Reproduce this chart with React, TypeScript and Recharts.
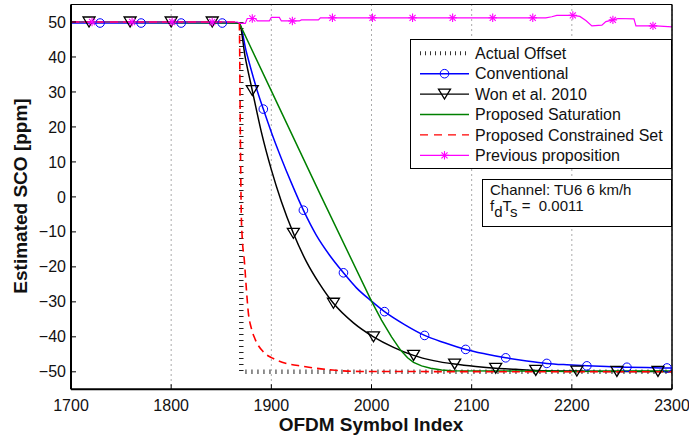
import React from 'react';
import { LineChart, Line, XAxis, YAxis, CartesianGrid } from 'recharts';

// x = OFDM symbol index, y = estimated SCO in ppm
const xTicks = [1700, 1800, 1900, 2000, 2100, 2200, 2300];
const yTicks = [-50, -40, -30, -20, -10, 0, 10, 20, 30, 40, 50];

const actualX = [1870, 1870, 2300];
const actualY = [50, -50, -50];

const conventionalX = [1700, 1729, 1770, 1810, 1851, 1868, 1875, 1880, 1886, 1892, 1900, 1910, 1920, 1932, 1945, 1958, 1972, 1985, 2000, 2013, 2033, 2053, 2073, 2094, 2114, 2134, 2155, 2175, 2195, 2215, 2235, 2255, 2275, 2295, 2300];
const conventionalY = [49.7, 49.7, 49.7, 49.7, 49.7, 49.7, 41.5, 36.2, 30.3, 25.1, 18.5, 11, 4, -3.8, -11, -16.6, -21.7, -26, -29.8, -32.8, -36.5, -39.6, -41.7, -43.6, -44.9, -46, -46.9, -47.6, -48, -48.3, -48.5, -48.7, -48.8, -48.9, -48.9];
const conventionalMarks = [1729, 1770, 1810, 1851, 1892, 1932, 1972, 2013, 2053, 2094, 2134, 2175, 2215, 2255, 2295];

const wonX = [1700, 1718, 1759, 1800, 1841, 1868, 1874, 1881, 1890, 1900, 1910, 1922, 1935, 1948, 1962, 1982, 2002, 2022, 2042, 2062, 2083, 2104, 2124, 2144, 2164, 2205, 2245, 2286, 2300];
const wonY = [50, 50, 50, 50, 50, 49.7, 39.8, 30.4, 18.6, 7.8, -1.3, -10.4, -18.5, -24.8, -30.4, -36, -40, -43, -45.3, -46.8, -47.8, -48.5, -49, -49.3, -49.6, -49.8, -49.9, -49.9, -50];
const wonMarks = [1718, 1759, 1800, 1841, 1881, 1922, 1962, 2002, 2042, 2083, 2124, 2164, 2205, 2245, 2286];

const saturationX = [1700, 1868, 1900, 1950, 2000, 2010, 2020, 2029, 2036, 2042, 2050, 2059, 2070, 2080, 2150, 2200, 2250, 2300];
const saturationY = [50, 49.7, 30.3, 0, -29.8, -35.2, -40, -43.8, -46, -47.3, -48.3, -49, -49.5, -49.7, -49.8, -49.9, -49.8, -49.8];

const constrainedX = [1700, 1868, 1869, 1870, 1871, 1873, 1875, 1877, 1880, 1884, 1892, 1902, 1915, 1931, 1961, 1990, 2300];
const constrainedY = [50, 50, 20, -5, -12, -18, -26, -33, -37.5, -40.8, -44.3, -46.2, -47.6, -48.4, -49.5, -49.9, -50];

const previousX = [1700, 1721, 1761, 1801, 1841, 1866, 1869, 1874, 1876, 1881, 1884, 1886, 1898, 1900, 1908, 1910, 1921, 1928, 1930, 1947, 1949, 1961, 2001, 2041, 2081, 2121, 2161, 2174, 2180, 2185, 2201, 2208, 2214, 2220, 2230, 2234, 2241, 2246, 2262, 2264, 2281, 2284, 2300];
const previousY = [50, 50, 50, 50, 50, 50, 49.6, 49.6, 51, 51, 51, 50.3, 50.3, 51.3, 51.3, 50.3, 50.3, 50.3, 50.6, 50.6, 51.2, 51.2, 51.2, 51.2, 51.2, 51.2, 51.2, 51.2, 51.5, 51.9, 51.9, 51.6, 50.4, 48.9, 49.1, 50.1, 50.6, 51, 50.9, 48.9, 48.9, 48.9, 48.6];
const previousMarks = [1721, 1761, 1801, 1841, 1881, 1921, 1961, 2001, 2041, 2081, 2121, 2161, 2201, 2241, 2281];

const legendNames = ['Actual Offset', 'Conventional', 'Won et al. 2010', 'Proposed Saturation', 'Proposed Constrained Set', 'Previous proposition'];

const FONT = '"Liberation Sans", Arial, Helvetica, sans-serif';
const BLUE = '#0000ff';
const GREEN = '#008000';
const RED = '#ff0000';
const MAGENTA = '#ff00ff';

const toPoints = (xs: number[], ys: number[]) => xs.map((x, i) => ({ x, y: ys[i] }));

const fmt = (v: number) => (v < 0 ? `\u2212${-v}` : `${v}`);

const Marker = ({ kind, cx, cy }: { kind: string; cx: number; cy: number }) => {
  if (kind === 'circle') {
    return <circle cx={cx} cy={cy} r={4.3} fill="none" stroke={BLUE} strokeWidth={1} />;
  }
  if (kind === 'tri') {
    return (
      <polygon
        points={`${cx - 6},${cy - 5} ${cx + 6},${cy - 5} ${cx},${cy + 5}`}
        fill="none"
        stroke="#000"
        strokeWidth={1.3}
      />
    );
  }
  const s = 4.2;
  const d = s * 0.72;
  return (
    <g stroke={MAGENTA} strokeWidth={1.1}>
      <line x1={cx - s} x2={cx + s} y1={cy} y2={cy} />
      <line x1={cx} x2={cx} y1={cy - s} y2={cy + s} />
      <line x1={cx - d} x2={cx + d} y1={cy - d} y2={cy + d} />
      <line x1={cx - d} x2={cx + d} y1={cy + d} y2={cy - d} />
    </g>
  );
};

const markerDot = (marks: number[], kind: string) => (p: any) => {
  if (!marks.includes(p.payload.x)) return <g key={`d-${p.index}`} />;
  return (
    <g key={`d-${p.index}`}>
      <Marker kind={kind} cx={p.cx} cy={p.cy} />
    </g>
  );
};

const BottomTick = (p: any) => (
  <g>
    <line x1={p.x} x2={p.x} y1={p.y} y2={p.y - 5} stroke="#000" />
    <text x={p.x} y={p.y + 22} textAnchor="middle" fontSize={16} fill="#111" fontFamily={FONT}>
      {p.payload.value}
    </text>
  </g>
);

const TopTick = (p: any) => <line x1={p.x} x2={p.x} y1={p.y} y2={p.y + 5} stroke="#000" />;

const LeftTick = (p: any) => (
  <g>
    <line x1={p.x} x2={p.x + 5} y1={p.y} y2={p.y} stroke="#000" />
    <text x={p.x - 5} y={p.y + 5.6} textAnchor="end" fontSize={16} fill="#111" fontFamily={FONT}>
      {fmt(p.payload.value)}
    </text>
  </g>
);

const RightTick = (p: any) => <line x1={p.x} x2={p.x - 5} y1={p.y} y2={p.y} stroke="#000" />;

const LegendSample = ({ i, y }: { i: number; y: number }) => {
  const x1 = 420;
  const x2 = 469;
  const mid = (x1 + x2) / 2;
  if (i === 0) return <line x1={x1} x2={x2} y1={y} y2={y} stroke="#333" strokeWidth={4} strokeDasharray="1 4" />;
  if (i === 1)
    return (
      <g>
        <line x1={x1} x2={x2} y1={y} y2={y} stroke={BLUE} strokeWidth={1.4} />
        <Marker kind="circle" cx={mid} cy={y} />
      </g>
    );
  if (i === 2)
    return (
      <g>
        <line x1={x1} x2={x2} y1={y} y2={y} stroke="#000" strokeWidth={1.4} />
        <Marker kind="tri" cx={mid} cy={y} />
      </g>
    );
  if (i === 3) return <line x1={x1} x2={x2} y1={y} y2={y} stroke={GREEN} strokeWidth={1.4} />;
  if (i === 4) return <line x1={x1} x2={x2} y1={y} y2={y} stroke={RED} strokeWidth={1.4} strokeDasharray="8 6" />;
  return (
    <g>
      <line x1={x1} x2={x2} y1={y} y2={y} stroke={MAGENTA} strokeWidth={1.2} />
      <Marker kind="star" cx={mid} cy={y} />
    </g>
  );
};

export default function App() {
  return (
    <div style={{ position: 'absolute', left: 0, top: 0, width: 689, height: 438, background: '#fff', fontFamily: FONT }}>
      <LineChart width={689} height={438} margin={{ top: 3.5, right: 16, bottom: 18.7, left: 11 }}>
        <CartesianGrid horizontal={false} stroke="#555" strokeDasharray="1 4" />
        <XAxis
          dataKey="x"
          type="number"
          domain={[1700, 2300]}
          ticks={xTicks}
          interval={0}
          height={30}
          tickSize={0}
          tickMargin={0}
          tick={BottomTick}
          axisLine={{ stroke: '#000', strokeWidth: 2 }}
          allowDataOverflow
        />
        <XAxis
          xAxisId="top"
          orientation="top"
          dataKey="x"
          type="number"
          domain={[1700, 2300]}
          ticks={xTicks}
          interval={0}
          height={1}
          tickSize={0}
          tickMargin={0}
          tick={TopTick}
          axisLine={{ stroke: '#000', strokeWidth: 1 }}
        />
        <YAxis
          type="number"
          domain={[-55, 55]}
          ticks={yTicks}
          interval={0}
          width={60}
          tickSize={0}
          tickMargin={0}
          tick={LeftTick}
          axisLine={{ stroke: '#000', strokeWidth: 2 }}
          allowDataOverflow
        />
        <YAxis
          yAxisId="right"
          orientation="right"
          type="number"
          domain={[-55, 55]}
          ticks={yTicks}
          interval={0}
          width={1}
          tickSize={0}
          tickMargin={0}
          tick={RightTick}
          axisLine={{ stroke: '#000', strokeWidth: 1.5 }}
        />
        <Line data={toPoints(actualX, actualY)} dataKey="y" type="linear" stroke="#222" strokeWidth={4.5} strokeDasharray="1 5" dot={false} isAnimationActive={false} />
        <Line data={toPoints(conventionalX, conventionalY)} dataKey="y" type="monotone" stroke={BLUE} strokeWidth={1.5} dot={markerDot(conventionalMarks, 'circle')} isAnimationActive={false} />
        <Line data={toPoints(wonX, wonY)} dataKey="y" type="monotone" stroke="#000" strokeWidth={1.5} dot={markerDot(wonMarks, 'tri')} isAnimationActive={false} />
        <Line data={toPoints(saturationX, saturationY)} dataKey="y" type="linear" stroke={GREEN} strokeWidth={1.5} dot={false} isAnimationActive={false} />
        <Line data={toPoints(constrainedX, constrainedY)} dataKey="y" type="monotone" stroke={RED} strokeWidth={1.6} strokeDasharray="8 5" dot={false} isAnimationActive={false} />
        <Line data={toPoints(previousX, previousY)} dataKey="y" type="linear" stroke={MAGENTA} strokeWidth={1.2} dot={markerDot(previousMarks, 'star')} isAnimationActive={false} />
      </LineChart>

      <svg width={689} height={438} style={{ position: 'absolute', left: 0, top: 0, pointerEvents: 'none' }} fontFamily={FONT}>
        <text transform="translate(26.5,196) rotate(-90)" textAnchor="middle" fontSize={19} fontWeight="bold" fill="#111">
          Estimated SCO [ppm]
        </text>
        <text x={371} y={431} textAnchor="middle" fontSize={19} fontWeight="bold" fill="#111">
          OFDM Symbol Index
        </text>

        <rect x={410.5} y={39.5} width={261} height={129} fill="#fff" stroke="#000" strokeWidth={1} />
        {legendNames.map((name, i) => {
          const y = 53.3 + i * 20.4;
          return (
            <g key={name}>
              <LegendSample i={i} y={y} />
              <text x={475} y={y + 5.6} fontSize={16} fill="#111">
                {name}
              </text>
            </g>
          );
        })}

        <rect x={482.5} y={179.5} width={189} height={47} fill="#fff" stroke="#000" strokeWidth={1} />
        <text x={490} y={195} fontSize={15} fill="#111">
          Channel: TU6 6 km/h
        </text>
        <text x={490} y={211} fontSize={15} fill="#111" style={{ whiteSpace: 'pre' }}>
          f<tspan dy={6}>d</tspan>
          <tspan dy={-6}>T</tspan>
          <tspan dy={6}>s</tspan>
          <tspan dy={-6}> =  0.0011</tspan>
        </text>
      </svg>
    </div>
  );
}
